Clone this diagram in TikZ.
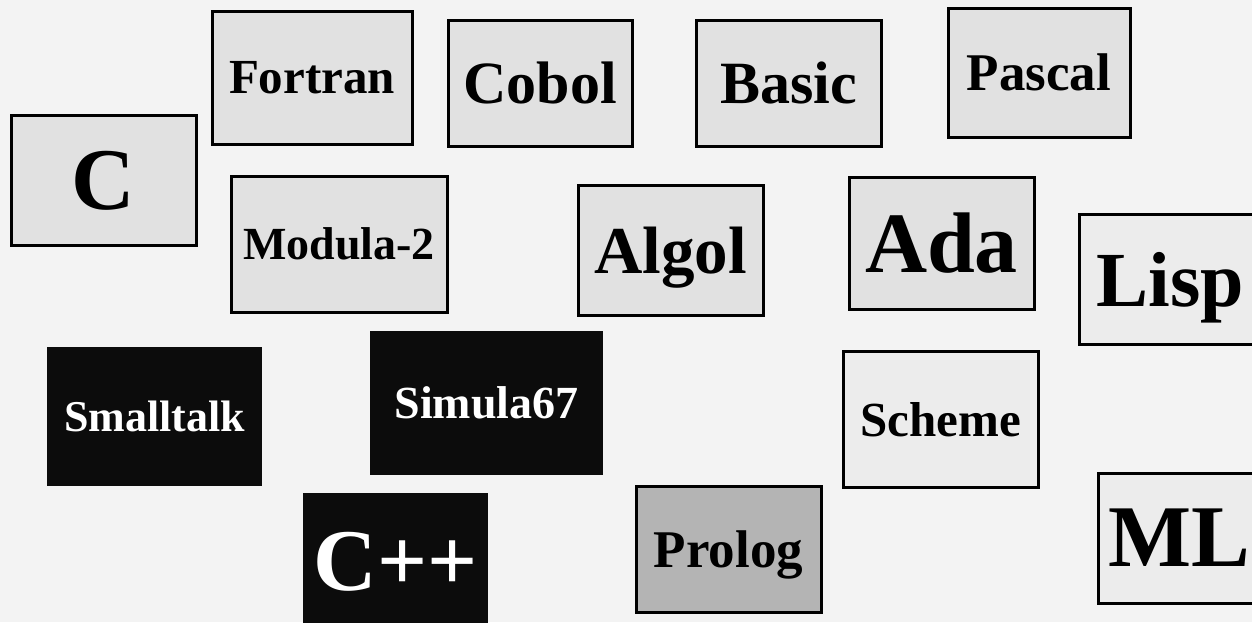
\documentclass[tikz,border=0pt]{standalone}
\usepackage{fontspec}
\setmainfont{Liberation Serif}
\usepackage{tikz}
\definecolor{pagegray}{RGB}{243,243,243}
\definecolor{boxgray}{RGB}{225,225,225}
\definecolor{palegray}{RGB}{236,236,236}
\definecolor{midgray}{RGB}{180,180,180}
\definecolor{nearblack}{RGB}{12,12,12}
\newcommand{\langsize}[1]{\fontsize{#1}{#1}\selectfont\bfseries}

\begin{document}
\begin{tikzpicture}[x=1pt, y=-1pt,
  lang/.style={draw=black, line width=3pt, fill=boxgray, inner sep=0pt, text depth=0pt},
  pale/.style={lang, fill=palegray},
  dark/.style={lang, draw=none, fill=nearblack, text=white}]
 \clip (0,0) rectangle (1252,622);
 \fill[pagegray] (0,0) rectangle (1252,622);
 % first row
 \node[lang, minimum width=200pt, minimum height=133pt, font=\langsize{49}] (fortran) at (312,77.5){Fortran};
 \node[lang, minimum width=184pt, minimum height=126pt, font=\langsize{60}] (cobol) at (540,83){Cobol};
 \node[lang, minimum width=185pt, minimum height=126pt, font=\langsize{60}] (basic) at (788.5,83){Basic};
 \node[lang, minimum width=182pt, minimum height=129pt, font=\langsize{53}] (pascal) at (1039,72.5){Pascal};
 % second row
 \node[lang, minimum width=185pt, minimum height=130pt, font=\langsize{88}] (c) at (103.5,180){C};
 \node[lang, minimum width=216pt, minimum height=136pt, font=\langsize{46}] (modula) at (339,244){Modula-2};
 \node[lang, minimum width=185pt, minimum height=130pt, font=\langsize{67}] (algol) at (670.5,250){Algol};
 \node[lang, minimum width=185pt, minimum height=132pt, font=\langsize{86}] (ada) at (941.5,243){Ada};
 \node[pale, minimum width=182pt, minimum height=130pt, font=\langsize{78}] (lisp) at (1170,279){Lisp};
 % third row
 \node[dark, minimum width=215pt, minimum height=139pt, font=\langsize{44}] (smalltalk) at (154.5,416.5){Smalltalk};
 \node[dark, minimum width=233pt, minimum height=144pt, font=\langsize{46}] (simula) at (486.5,403){Simula67};
 \node[pale, minimum width=195pt, minimum height=136pt, font=\langsize{49}] (scheme) at (940.5,419){Scheme};
 % bottom row
 \node[dark, minimum width=185pt, minimum height=137pt, font=\langsize{88}] (cpp) at (395.5,561.5){C++};
 \node[lang, fill=midgray, minimum width=185pt, minimum height=126pt, font=\langsize{53}] (prolog) at (728.5,549){Prolog};
 \node[pale, minimum width=163pt, minimum height=130pt, font=\langsize{88}] (ml) at (1179.5,538){ML};
\end{tikzpicture}
\end{document}
